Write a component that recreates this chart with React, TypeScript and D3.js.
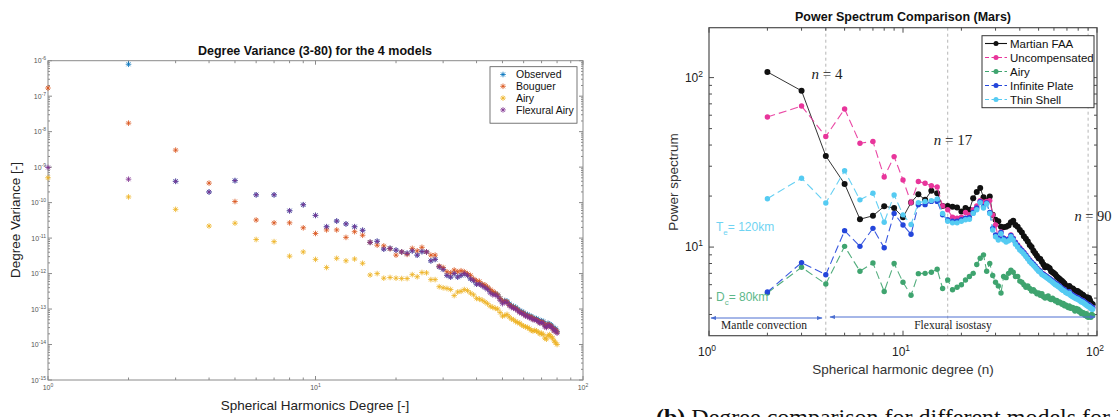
import React from "react";
import * as d3 from "d3";

// ---------- Left chart data (log10 of degree variance), degrees 1..80 ----------
const leftDegrees = d3.range(1, 81);
const observedExp = [
  null, -6.10, -9.40, -9.70, -9.38, -9.78, -9.78, -10.23, -10.06, -10.36,
  -10.68, -10.52, -10.60, -10.68, -10.78, -11.12, -11.09, -11.31, -11.29, -11.34,
  -11.39, -11.43, -11.36, -11.48, -11.38, -11.39, -11.64, -11.60, -11.81, -11.88,
  -12.05, -12.10, -12.00, -12.10, -12.05, -12.00, -12.05, -12.15, -12.20, -12.30,
  -12.28, -12.32, -12.37, -12.42, -12.50, -12.55, -12.56, -12.60, -12.70, -12.80,
  -12.76, -12.78, -12.85, -12.90, -12.93, -12.95, -13.00, -13.05, -13.07, -13.10,
  -13.15, -13.15, -13.20, -13.20, -13.25, -13.26, -13.27, -13.30, -13.35, -13.33,
  -13.35, -13.45, -13.47, -13.40, -13.43, -13.45, -13.50, -13.57, -13.55, -13.63,
];
const bouguerExp = [
  -6.77, -7.76, -8.52, -9.45, -9.97, -10.49, -10.57, -10.57, -10.71, -10.87,
  -10.77, -10.77, -10.98, -10.82, -10.92, -11.12, -11.20, -11.22, -11.30, -11.48,
  -11.39, -11.46, -11.29, -11.36, -11.26, -11.39, -11.48, -11.48, -11.79, -11.83,
  -11.95, -11.98, -11.90, -11.95, -11.92, -11.95, -12.00, -12.05, -12.15, -12.20,
  -12.22, -12.30, -12.32, -12.38, -12.45, -12.50, -12.55, -12.60, -12.70, -12.78,
  -12.78, -12.80, -12.88, -12.92, -12.95, -12.98, -13.02, -13.08, -13.10, -13.12,
  -13.18, -13.18, -13.22, -13.22, -13.28, -13.28, -13.30, -13.33, -13.38, -13.36,
  -13.38, -13.45, -13.50, -13.43, -13.45, -13.48, -13.53, -13.60, -13.58, -13.65,
];
const airyExp = [
  -9.30, -9.84, -10.19, -10.66, -10.58, -11.04, -11.10, -11.51, -11.39, -11.60,
  -11.83, -11.57, -11.64, -11.59, -11.71, -12.04, -12.00, -12.13, -12.11, -12.13,
  -12.14, -12.14, -12.03, -12.09, -11.97, -11.98, -12.17, -12.17, -12.37, -12.40,
  -12.42, -12.45, -12.62, -12.52, -12.50, -12.45, -12.48, -12.55, -12.60, -12.70,
  -12.72, -12.75, -12.80, -12.85, -12.92, -12.95, -12.98, -13.00, -13.10, -13.20,
  -13.18, -13.15, -13.22, -13.28, -13.30, -13.35, -13.38, -13.40, -13.45, -13.48,
  -13.50, -13.52, -13.55, -13.60, -13.62, -13.60, -13.62, -13.65, -13.70, -13.68,
  -13.72, -13.82, -13.85, -13.75, -13.72, -13.78, -13.82, -13.90, -13.95, -14.00,
];
const flexuralExp = [
  -9.01, -9.34, -9.40, -9.70, -9.38, -9.78, -9.78, -10.23, -10.06, -10.36,
  -10.68, -10.52, -10.60, -10.68, -10.78, -11.12, -11.09, -11.31, -11.29, -11.34,
  -11.39, -11.43, -11.36, -11.48, -11.38, -11.39, -11.64, -11.60, -11.81, -11.88,
  -12.05, -12.10, -12.00, -12.10, -12.05, -12.00, -12.05, -12.15, -12.20, -12.30,
  -12.30, -12.35, -12.40, -12.45, -12.55, -12.60, -12.60, -12.65, -12.75, -12.85,
  -12.80, -12.82, -12.90, -12.95, -12.98, -13.00, -13.05, -13.10, -13.12, -13.15,
  -13.20, -13.20, -13.25, -13.25, -13.30, -13.30, -13.32, -13.35, -13.40, -13.38,
  -13.40, -13.50, -13.52, -13.45, -13.48, -13.50, -13.55, -13.62, -13.60, -13.68,
];
const leftNames = ["Observed", "Bouguer", "Airy", "Flexural Airy"];
const leftColors = ["#0072BD", "#D95319", "#EDB120", "#7E2F8E"];
const leftSeries = [observedExp, bouguerExp, airyExp, flexuralExp];

// ---------- Right chart data (power spectrum), degrees 2..95 ----------
const rightDegrees = d3.range(2, 96);
const martianFAA = [
  108, 83.6, 34.5, 23.6, 14.6, 15.3, 17.4, 17.0, 15.0, 18.3,
  20.5, 19.0, 21.5, 20.8, 17.5, 17.5, 17.3, 17.1, 16.2, 17.0,
  16.6, 19.4, 21.1, 22.3, 19.7, 18.8, 19.9, 15.5, 14.5, 14.2,
  13.2, 13.1, 13.2, 13.4, 14.0, 14.3, 13.5, 13.2, 12.6, 12.2,
  11.6, 11.2, 10.8, 10.3, 10.0, 9.5, 9.2, 8.9, 8.6, 8.5,
  8.2, 7.9, 7.6, 7.7, 7.6, 7.5, 7.2, 7.1, 7.0, 6.9,
  6.7, 6.6, 6.5, 6.4, 6.3, 6.2, 6.1, 5.9, 5.86, 5.8,
  5.9, 5.75, 5.6, 5.7, 5.6, 5.5, 5.45, 5.5, 5.47, 5.3,
  5.35, 5.2, 5.25, 5.2, 5.1, 5.0, 4.95, 5.05, 4.9, 5.0,
  4.85, 4.7, 4.6, 4.6,
];
const uncompensated = [
  58.5, 68, 44.9, 65.3, 41, 42, 25.9, 34.2, 24.9, 18.3,
  24.4, 23.8, 23.0, 22.6, 17.5, 16.6, 15.0, 14.8, 15.0, 16.0,
  15.5, 16.6, 17.5, 18.8, 18.4, 18.6, 18.8, 15.5, 13.5, 11.3,
  12.3, 11.3, 11.0, 11.2, 11.8, 11.3, 10.7, 10.3, 9.9, 9.6,
  9.3, 9.0, 8.6, 8.4, 8.1, 7.9, 7.7, 7.5, 7.35, 7.2,
  7.0, 6.95, 6.8, 6.7, 6.6, 6.5, 6.4, 6.3, 6.2, 6.1,
  6.05, 5.95, 5.9, 5.8, 5.7, 5.65, 5.6, 5.5, 5.45, 5.4,
  5.45, 5.3, 5.25, 5.2, 5.15, 5.1, 5.05, 5.05, 5.0, 4.95,
  4.9, 4.85, 4.85, 4.8, 4.75, 4.7, 4.65, 4.6, 4.55, 4.55,
  4.5, 4.45, 4.4, 4.4,
];
const airyPower = [
  5.36, 7.6, 6.05, 10.1, 7.2, 8.05, 5.47, 8.0, 6.2, 5.2,
  6.97, 7.0, 7.1, 7.4, 5.7, 6.4, 5.6, 5.8, 6.0, 6.4,
  6.7, 7.0, 7.9, 8.6, 9.0, 7.2, 8.0, 6.8, 6.2, 5.9,
  5.36, 6.7, 6.6, 7.0, 7.3, 7.1, 6.7, 6.7, 6.3, 6.2,
  6.0, 5.8, 5.9, 5.7, 5.5, 5.6, 5.45, 5.3, 5.36, 5.2,
  5.3, 5.1, 5.0, 5.1, 5.15, 4.95, 4.9, 5.0, 4.9, 4.8,
  4.85, 4.7, 4.75, 4.7, 4.6, 4.65, 4.5, 4.55, 4.47, 4.4,
  4.5, 4.35, 4.4, 4.4, 4.3, 4.2, 4.35, 4.25, 4.3, 4.15,
  4.2, 4.05, 4.1, 4.1, 4.0, 3.95, 4.05, 3.9, 3.85, 3.95,
  3.9, 3.85, 4.0, 3.95,
];
const infinitePlate = [
  5.43, 8.1, 6.87, 12.5, 10.1, 12.9, 9.9, 15.8, 13.5, 11.9,
  17.8, 17.8, 18.6, 18.6, 15.5, 14.5, 14.2, 14.2, 14.5, 14.8,
  14.9, 16.0, 17.0, 18.5, 17.3, 18.2, 16.0, 12.9, 11.8, 11.3,
  12.2, 11.3, 11.0, 11.1, 11.7, 11.2, 10.6, 10.2, 9.8, 9.55,
  9.25, 8.95, 8.65, 8.35, 8.15, 7.95, 7.75, 7.5, 7.3, 7.2,
  7.0, 6.9, 6.8, 6.7, 6.6, 6.5, 6.4, 6.3, 6.2, 6.1,
  6.05, 5.95, 5.9, 5.8, 5.7, 5.65, 5.6, 5.5, 5.45, 5.4,
  5.45, 5.3, 5.25, 5.2, 5.15, 5.1, 5.05, 5.05, 5.0, 4.95,
  4.9, 4.85, 4.85, 4.8, 4.75, 4.7, 4.65, 4.6, 4.55, 4.55,
  4.5, 4.45, 4.4, 4.4,
];
const thinShell = [
  19.3, 25.5, 18.2, 28.2, 19.0, 20.8, 14.0, 20.3, 15.5, 13.6,
  18.3, 18.6, 18.8, 19.2, 15.8, 14.2, 13.9, 13.9, 14.2, 14.5,
  14.6, 15.8, 16.6, 18.3, 17.0, 18.0, 15.8, 12.6, 11.5, 11.0,
  12.0, 11.0, 10.7, 10.9, 11.5, 11.0, 10.4, 10.0, 9.6, 9.4,
  9.1, 8.8, 8.5, 8.2, 8.0, 7.8, 7.6, 7.4, 7.2, 7.1,
  6.9, 6.8, 6.7, 6.6, 6.5, 6.4, 6.3, 6.2, 6.1, 6.0,
  5.95, 5.85, 5.8, 5.7, 5.6, 5.55, 5.5, 5.4, 5.35, 5.3,
  5.35, 5.2, 5.15, 5.1, 5.05, 5.0, 4.95, 4.95, 4.9, 4.85,
  4.8, 4.75, 4.75, 4.7, 4.65, 4.6, 4.55, 4.5, 4.47, 4.45,
  4.4, 4.35, 4.3, 4.3,
];
const rightNames = ["Martian FAA", "Uncompensated", "Airy", "Infinite Plate", "Thin Shell"];
const rightColors = ["#111111", "#E8359B", "#3FA46F", "#2446DB", "#55CBF2"];
const rightSeries = [martianFAA, uncompensated, airyPower, infinitePlate, thinShell];
const markerDegrees = [4, 17, 90];

const SANS = "'Liberation Sans', Arial, sans-serif";
const SERIF = "'Liberation Serif', 'Times New Roman', serif";

function Star({ x, y, color }: { x: number; y: number; color: string }) {
  const s = 2.8, d = 2;
  return (
    <path
      d={`M${x - s},${y}H${x + s}M${x},${y - s}V${y + s}M${x - d},${y - d}L${x + d},${y + d}M${x - d},${y + d}L${x + d},${y - d}`}
      stroke={color}
      strokeWidth={1}
      opacity={0.8}
      fill="none"
    />
  );
}

function LeftChart() {
  const X0 = 48, X1 = 583, Y0 = 60.7, Y1 = 380;
  const x = d3.scaleLog().domain([1, 100]).range([X0, X1]);
  const y = d3.scaleLog().domain([1e-15, 1e-6]).range([Y1, Y0]);
  const axisColor = "#8a8a8a";
  const xMinor: number[] = [];
  [1, 10].forEach((dec) => { for (let m = 2; m <= 9; m++) xMinor.push(dec * m); });
  const yDecades = d3.range(-15, -5);
  const yMinor: number[] = [];
  d3.range(-15, -6).forEach((e) => { for (let m = 2; m <= 9; m++) yMinor.push(m * Math.pow(10, e)); });
  return (
    <g>
      <rect x={X0} y={Y0} width={X1 - X0} height={Y1 - Y0} fill="#fff" stroke={axisColor} strokeWidth={1} />
      {[1, 10, 100].map((t) => (
        <g key={"xm" + t}>
          <line x1={x(t)} x2={x(t)} y1={Y1} y2={Y1 - 4} stroke={axisColor} />
          <line x1={x(t)} x2={x(t)} y1={Y0} y2={Y0 + 4} stroke={axisColor} />
          <text x={x(t)} y={390} fontSize={7} fill="#555" textAnchor="middle" fontFamily={SANS}>
            10<tspan dy={-3} fontSize={5}>{Math.round(Math.log10(t))}</tspan>
          </text>
        </g>
      ))}
      {xMinor.map((t) => (
        <g key={"xn" + t}>
          <line x1={x(t)} x2={x(t)} y1={Y1} y2={Y1 - 2.5} stroke={axisColor} />
          <line x1={x(t)} x2={x(t)} y1={Y0} y2={Y0 + 2.5} stroke={axisColor} />
        </g>
      ))}
      {yDecades.map((e) => (
        <g key={"ym" + e}>
          <line x1={X0} x2={X0 + 4} y1={y(Math.pow(10, e))} y2={y(Math.pow(10, e))} stroke={axisColor} />
          <line x1={X1} x2={X1 - 4} y1={y(Math.pow(10, e))} y2={y(Math.pow(10, e))} stroke={axisColor} />
          <text x={X0 - 2} y={y(Math.pow(10, e)) + 2.5} fontSize={7} fill="#555" textAnchor="end" fontFamily={SANS}>
            10<tspan dy={-3} fontSize={5}>{e}</tspan>
          </text>
        </g>
      ))}
      {yMinor.map((t, i) => (
        <g key={"yn" + i}>
          <line x1={X0} x2={X0 + 2} y1={y(t)} y2={y(t)} stroke={axisColor} />
          <line x1={X1} x2={X1 - 2} y1={y(t)} y2={y(t)} stroke={axisColor} />
        </g>
      ))}
      {leftSeries.map((ser, si) => (
        <g key={"s" + si}>
          {ser.map((e, i) =>
            e === null ? null : (
              <Star key={i} x={x(leftDegrees[i])} y={y(Math.pow(10, e as number))} color={leftColors[si]} />
            )
          )}
        </g>
      ))}
      <text x={315} y={55} fontSize={12.5} fontWeight="bold" textAnchor="middle" fontFamily={SANS} fill="#111">
        Degree Variance (3-80) for the 4 models
      </text>
      <text x={315} y={410} fontSize={13.5} textAnchor="middle" fontFamily={SANS} fill="#222">
        Spherical Harmonics Degree [-]
      </text>
      <text transform={`translate(20,220) rotate(-90)`} fontSize={13.5} textAnchor="middle" fontFamily={SANS} fill="#222">
        Degree Variance [-]
      </text>
      <rect x={490} y={66.7} width={87} height={56.5} fill="#fff" stroke="#555" strokeWidth={0.8} />
      {leftNames.map((nm, i) => (
        <g key={nm}>
          <Star x={503} y={74.5 + i * 11.8} color={leftColors[i]} />
          <text x={516} y={78.3 + i * 11.8} fontSize={10.5} fontFamily={SANS} fill="#111">{nm}</text>
        </g>
      ))}
    </g>
  );
}

function RightChart() {
  const X0 = 709, X1 = 1097, Y0 = 27.7, Y1 = 335.7;
  const x = d3.scaleLog().domain([1, 100]).range([X0, X1]);
  const y = d3.scaleLog().domain([3.0, 197]).range([Y1, Y0]);
  const frame = "#4d4d4d";
  const xMinor: number[] = [];
  [1, 10].forEach((dec) => { for (let m = 2; m <= 9; m++) xMinor.push(dec * m); });
  const yMinor = [4, 5, 6, 7, 8, 9, 20, 30, 40, 50, 60, 70, 80, 90];
  const line = d3.line<number>().x((_, i) => x(rightDegrees[i])).y((v) => y(v));
  const order = [0, 1, 2, 3, 4];
  return (
    <g>
      <defs>
        <marker id="arrowR" viewBox="0 0 10 10" refX="9" refY="5" markerWidth="6" markerHeight="6" orient="auto">
          <path d="M0,1.5L10,5L0,8.5z" fill="#4C6FD1" />
        </marker>
        <marker id="arrowL" viewBox="0 0 10 10" refX="1" refY="5" markerWidth="6" markerHeight="6" orient="auto">
          <path d="M10,1.5L0,5L10,8.5z" fill="#4C6FD1" />
        </marker>
        <clipPath id="rclip">
          <rect x={X0} y={Y0} width={X1 - X0} height={Y1 - Y0} />
        </clipPath>
      </defs>
      <rect x={X0} y={Y0} width={X1 - X0} height={Y1 - Y0} fill="#fff" />
      {markerDegrees.map((n) => (
        <line key={"v" + n} x1={x(n)} x2={x(n)} y1={Y0} y2={Y1} stroke="#b5b5b5" strokeDasharray="3,3" strokeWidth={1} />
      ))}
      {[1, 10, 100].map((t) => (
        <g key={"xm" + t}>
          <line x1={x(t)} x2={x(t)} y1={Y1} y2={Y1 - 5} stroke={frame} />
          <line x1={x(t)} x2={x(t)} y1={Y0} y2={Y0 + 5} stroke={frame} />
          <text x={x(t) - 2} y={356} fontSize={12} fill="#222" textAnchor="middle" fontFamily={SANS}>
            10<tspan dy={-5} fontSize={8.5}>{Math.round(Math.log10(t))}</tspan>
          </text>
        </g>
      ))}
      {xMinor.map((t) => (
        <g key={"xn" + t}>
          <line x1={x(t)} x2={x(t)} y1={Y1} y2={Y1 - 3} stroke={frame} />
          <line x1={x(t)} x2={x(t)} y1={Y0} y2={Y0 + 3} stroke={frame} />
        </g>
      ))}
      {[10, 100].map((t) => (
        <g key={"ym" + t}>
          <line x1={X0} x2={X0 + 5} y1={y(t)} y2={y(t)} stroke={frame} />
          <line x1={X1} x2={X1 - 5} y1={y(t)} y2={y(t)} stroke={frame} />
          <text x={703} y={y(t) + 4} fontSize={12} fill="#222" textAnchor="end" fontFamily={SANS}>
            10<tspan dy={-5} fontSize={8.5}>{Math.round(Math.log10(t))}</tspan>
          </text>
        </g>
      ))}
      {yMinor.map((t) => (
        <g key={"yn" + t}>
          <line x1={X0} x2={X0 + 3} y1={y(t)} y2={y(t)} stroke={frame} />
          <line x1={X1} x2={X1 - 3} y1={y(t)} y2={y(t)} stroke={frame} />
        </g>
      ))}
      <g clipPath="url(#rclip)">
        {order.map((si) => (
          <g key={"r" + si}>
            <path
              d={line(rightSeries[si]) || ""}
              fill="none"
              stroke={rightColors[si]}
              strokeWidth={si === 0 ? 1 : 1.1}
              strokeDasharray={si === 0 ? undefined : "8,4"}
              opacity={si === 0 ? 0.85 : 0.9}
            />
            {rightSeries[si].map((v, i) => (
              <circle key={i} cx={x(rightDegrees[i])} cy={y(v)} r={si === 0 ? 3 : 2.7} fill={rightColors[si]} />
            ))}
          </g>
        ))}
      </g>
      <line x1={711} x2={822} y1={318} y2={318} stroke="#4C6FD1" strokeWidth={1} markerStart="url(#arrowL)" markerEnd="url(#arrowR)" />
      <line x1={830} x2={1095} y1={317} y2={317} stroke="#4C6FD1" strokeWidth={1} markerStart="url(#arrowL)" markerEnd="url(#arrowR)" />
      <text x={764} y={329} fontSize={11.5} textAnchor="middle" fontFamily={SERIF} fill="#222">Mantle convection</text>
      <text x={953} y={329} fontSize={11.5} textAnchor="middle" fontFamily={SERIF} fill="#222">Flexural isostasy</text>
      <rect x={X0} y={Y0} width={X1 - X0} height={Y1 - Y0} fill="none" stroke={frame} strokeWidth={1.2} />
      <text x={827} y={79} fontSize={15} textAnchor="middle" fontFamily={SERIF} fill="#222">
        <tspan fontStyle="italic">n</tspan> = 4
      </text>
      <text x={953} y={145} fontSize={15} textAnchor="middle" fontFamily={SERIF} fill="#222">
        <tspan fontStyle="italic">n</tspan> = 17
      </text>
      <text x={1093} y={221} fontSize={14.5} textAnchor="middle" fontFamily={SERIF} fill="#222">
        <tspan fontStyle="italic">n</tspan> = 90
      </text>
      <text x={716} y={231} fontSize={12} fontFamily={SANS} fill="#6FD3F2">
        T<tspan dy={4} fontSize={8}>e</tspan><tspan dy={-4}>= 120km</tspan>
      </text>
      <text x={716} y={301} fontSize={12} fontFamily={SANS} fill="#5DB88A">
        D<tspan dy={4} fontSize={8}>c</tspan><tspan dy={-4}>= 80km</tspan>
      </text>
      <rect x={982} y={35.7} width={112} height={72} fill="#fff" stroke="#333" strokeWidth={1} />
      {rightNames.map((nm, i) => {
        const ly = 43.5 + i * 14;
        return (
          <g key={nm}>
            <line x1={985} x2={1007} y1={ly} y2={ly} stroke={rightColors[i]} strokeWidth={1.1} strokeDasharray={i === 0 ? undefined : "4,2.5"} />
            <circle cx={996} cy={ly} r={2.5} fill={rightColors[i]} />
            <text x={1010} y={ly + 4} fontSize={11.5} fontFamily={SANS} fill="#111">{nm}</text>
          </g>
        );
      })}
      <text x={903} y={21} fontSize={12.5} fontWeight="bold" textAnchor="middle" fontFamily={SANS} fill="#111">
        Power Spectrum Comparison (Mars)
      </text>
      <text x={903} y={374} fontSize={13.5} textAnchor="middle" fontFamily={SANS} fill="#333">
        Spherical harmonic degree (n)
      </text>
      <text transform={`translate(678,182) rotate(-90)`} fontSize={13.5} textAnchor="middle" fontFamily={SANS} fill="#333">
        Power spectrum
      </text>
      <text x={656} y={425} fontSize={24} fontFamily={SERIF} fill="#111">
        <tspan fontWeight="bold">(b)</tspan> Degree comparison for different models for Mars
      </text>
    </g>
  );
}

export default function App() {
  return (
    <svg
      width={1118}
      height={417}
      viewBox="0 0 1118 417"
      style={{ position: "absolute", left: 0, top: 0, background: "#fff" }}
    >
      <rect x={0} y={0} width={1118} height={417} fill="#fff" />
      <LeftChart />
      <RightChart />
    </svg>
  );
}
